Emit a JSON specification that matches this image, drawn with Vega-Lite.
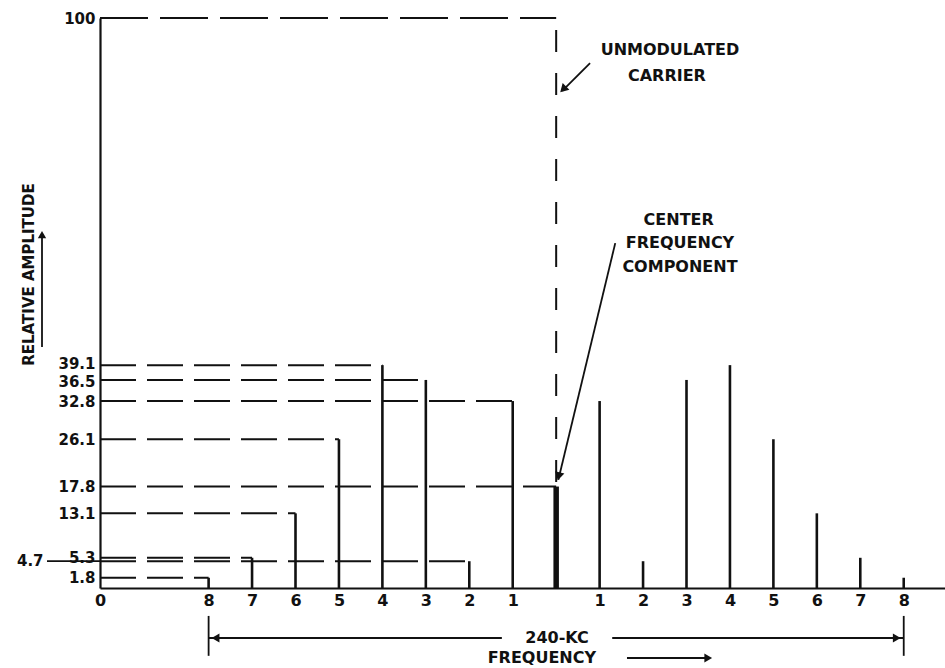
{
  "$schema": "https://vega.github.io/schema/vega-lite/v6.json",
  "width": 845,
  "height": 570,
  "autosize": {"type": "none"},
  "padding": {"left": 100, "top": 18, "right": 0, "bottom": 80},
  "background": "white",
  "config": {
    "view": {"stroke": null},
    "font": "DejaVu Sans",
    "text": {"font": "DejaVu Sans", "fontWeight": "bold", "fontSize": 16, "color": "#111"},
    "rule": {"color": "#111"},
    "axis": {
      "grid": false,
      "ticks": false,
      "domainColor": "#111",
      "domainWidth": 2.2,
      "labelColor": "#111",
      "labelFont": "DejaVu Sans",
      "labelFontWeight": "bold",
      "labelFontSize": 16,
      "labelOverlap": false,
      "labelBound": false,
      "labelFlush": false
    }
  },
  "datasets": {
    "spectrum": [
      {"pos": 2.5, "order": 8, "side": "lower", "base": 0, "amp": 1.8},
      {"pos": 3.5, "order": 7, "side": "lower", "base": 0, "amp": 5.3},
      {"pos": 4.5, "order": 6, "side": "lower", "base": 0, "amp": 13.1},
      {"pos": 5.5, "order": 5, "side": "lower", "base": 0, "amp": 26.1},
      {"pos": 6.5, "order": 4, "side": "lower", "base": 0, "amp": 39.1},
      {"pos": 7.5, "order": 3, "side": "lower", "base": 0, "amp": 36.5},
      {"pos": 8.5, "order": 2, "side": "lower", "base": 0, "amp": 4.7},
      {"pos": 9.5, "order": 1, "side": "lower", "base": 0, "amp": 32.8},
      {"pos": 10.5, "order": 0, "side": "center", "base": 0, "amp": 17.8},
      {"pos": 11.5, "order": 1, "side": "upper", "base": 0, "amp": 32.8},
      {"pos": 12.5, "order": 2, "side": "upper", "base": 0, "amp": 4.7},
      {"pos": 13.5, "order": 3, "side": "upper", "base": 0, "amp": 36.5},
      {"pos": 14.5, "order": 4, "side": "upper", "base": 0, "amp": 39.1},
      {"pos": 15.5, "order": 5, "side": "upper", "base": 0, "amp": 26.1},
      {"pos": 16.5, "order": 6, "side": "upper", "base": 0, "amp": 13.1},
      {"pos": 17.5, "order": 7, "side": "upper", "base": 0, "amp": 5.3},
      {"pos": 18.5, "order": 8, "side": "upper", "base": 0, "amp": 1.8}
    ],
    "carrier": [{"start": 0, "pos": 10.5, "amp": 100, "component": 17.8}],
    "leaders": [
      {"x": 11.28, "y": 92.1, "x2": 10.64, "y2": 87.2},
      {"x": 11.86, "y": 60.5, "x2": 10.55, "y2": 19.0},
      {"x": -1.335, "y": 42.3, "x2": -1.335, "y2": 61.5},
      {"x": 2.5, "y": -4.9, "x2": 2.5, "y2": -11.9},
      {"x": 18.5, "y": -4.9, "x2": 18.5, "y2": -11.9},
      {"x": 2.5, "y": -8.77, "x2": 9.25, "y2": -8.77},
      {"x": 11.79, "y": -8.77, "x2": 18.5, "y2": -8.77},
      {"x": 12.13, "y": -12.28, "x2": 14.0, "y2": -12.28},
      {"x": -1.22, "y": 4.7, "x2": 0, "y2": 4.7}
    ],
    "notes": [
      {"x": 13.12, "y": 94.4, "text": "UNMODULATED"},
      {"x": 13.05, "y": 89.8, "text": "CARRIER"},
      {"x": 13.32, "y": 64.6, "text": "CENTER"},
      {"x": 13.35, "y": 60.5, "text": "FREQUENCY"},
      {"x": 13.35, "y": 56.3, "text": "COMPONENT"},
      {"x": 10.52, "y": -8.77, "text": "240-KC"},
      {"x": 10.17, "y": -12.28, "text": "FREQUENCY"}
    ]
  },
  "layer": [
    {
      "data": {"name": "spectrum"},
      "transform": [{"filter": "datum.pos <= 10.5"}],
      "mark": {"type": "rule", "strokeWidth": 2, "strokeDash": [36, 11]},
      "encoding": {
        "x": {
          "field": "base",
          "type": "quantitative",
          "scale": {"domain": [0, 19.45], "nice": false, "zero": false},
          "axis": {
            "title": null,
            "values": [0, 2.5, 3.5, 4.5, 5.5, 6.5, 7.5, 8.5, 9.5, 11.5, 12.5, 13.5, 14.5, 15.5, 16.5, 17.5, 18.5],
            "labelExpr": "datum.value == 0 ? '0' : format(abs(datum.value - 10.5), 'd')",
            "labelPadding": 4
          }
        },
        "x2": {"field": "pos"},
        "y": {
          "field": "amp",
          "type": "quantitative",
          "scale": {"domain": [0, 100], "nice": false},
          "axis": {
            "title": "RELATIVE AMPLITUDE",
            "titleFont": "DejaVu Sans",
            "titleFontWeight": "bold",
            "titleFontSize": 15,
            "titleColor": "#111",
            "titleAngle": -90,
            "titleX": -72,
            "titleY": 256,
            "titleAlign": "center",
            "titleBaseline": "middle",
            "values": [1.8, 4.7, 5.3, 13.1, 17.8, 26.1, 32.8, 36.5, 39.1, 100],
            "labelExpr": "datum.value == 4.7 ? '' : datum.value == 100 ? '100' : format(datum.value, '.1f')",
            "labelFontSize": 15,
            "labelOffset": {"condition": [{"test": "datum.value == 39.1", "value": -2}, {"test": "datum.value == 36.5", "value": 1.5}], "value": 0},
            "labelPadding": 5
          }
        }
      }
    },
    {
      "data": {"name": "carrier"},
      "mark": {"type": "rule", "strokeWidth": 2, "strokeDash": [48, 12]},
      "encoding": {
        "x": {"field": "start", "type": "quantitative"},
        "x2": {"field": "pos"},
        "y": {"field": "amp", "type": "quantitative"}
      }
    },
    {
      "data": {"name": "carrier"},
      "mark": {"type": "rule", "strokeWidth": 2, "strokeDash": [22, 21], "strokeDashOffset": -12},
      "encoding": {
        "x": {"field": "pos", "type": "quantitative"},
        "y": {"field": "amp", "type": "quantitative"},
        "y2": {"field": "component"}
      }
    },
    {
      "data": {"name": "spectrum"},
      "transform": [{"filter": "datum.side != 'center'"}],
      "mark": {"type": "rule", "strokeWidth": 2.6},
      "encoding": {
        "x": {"field": "pos", "type": "quantitative"},
        "y": {"field": "base", "type": "quantitative"},
        "y2": {"field": "amp"}
      }
    },
    {
      "data": {"name": "spectrum"},
      "transform": [{"filter": "datum.side == 'center'"}],
      "mark": {"type": "rule", "strokeWidth": 5.5},
      "encoding": {
        "x": {"field": "pos", "type": "quantitative"},
        "y": {"field": "base", "type": "quantitative"},
        "y2": {"field": "amp"}
      }
    },
    {
      "data": {"name": "leaders"},
      "mark": {"type": "rule", "strokeWidth": 1.8, "clip": false},
      "encoding": {
        "x": {"field": "x", "type": "quantitative"},
        "y": {"field": "y", "type": "quantitative"},
        "x2": {"field": "x2"},
        "y2": {"field": "y2"}
      }
    },
    {
      "data": {"values": [{"x": 10.66, "y": 87.5}]},
      "mark": {"type": "point", "shape": "triangle-up", "filled": true, "size": 90, "angle": 225, "color": "#111", "opacity": 1},
      "encoding": {"x": {"field": "x", "type": "quantitative"}, "y": {"field": "y", "type": "quantitative"}}
    },
    {
      "data": {"values": [{"x": 10.56, "y": 19.6}]},
      "mark": {"type": "point", "shape": "triangle-up", "filled": true, "size": 90, "angle": 193.5, "color": "#111", "opacity": 1},
      "encoding": {"x": {"field": "x", "type": "quantitative"}, "y": {"field": "y", "type": "quantitative"}}
    },
    {
      "data": {"values": [{"x": -1.335, "y": 62.0}]},
      "mark": {"type": "point", "shape": "triangle-up", "filled": true, "size": 70, "angle": 0, "color": "#111", "opacity": 1},
      "encoding": {"x": {"field": "x", "type": "quantitative"}, "y": {"field": "y", "type": "quantitative"}}
    },
    {
      "data": {"values": [{"x": 2.66, "y": -8.77}]},
      "mark": {"type": "point", "shape": "triangle-up", "filled": true, "size": 80, "angle": 270, "color": "#111", "opacity": 1, "clip": false},
      "encoding": {"x": {"field": "x", "type": "quantitative"}, "y": {"field": "y", "type": "quantitative"}}
    },
    {
      "data": {"values": [{"x": 18.34, "y": -8.77}, {"x": 14.0, "y": -12.28}]},
      "mark": {"type": "point", "shape": "triangle-up", "filled": true, "size": 80, "angle": 90, "color": "#111", "opacity": 1, "clip": false},
      "encoding": {"x": {"field": "x", "type": "quantitative"}, "y": {"field": "y", "type": "quantitative"}}
    },
    {
      "data": {"name": "notes"},
      "mark": {"type": "text", "align": "center", "baseline": "middle", "clip": false},
      "encoding": {
        "x": {"field": "x", "type": "quantitative"},
        "y": {"field": "y", "type": "quantitative"},
        "text": {"field": "text"}
      }
    },
    {
      "data": {"values": [{"x": -1.3, "y": 4.7, "text": "4.7"}]},
      "mark": {"type": "text", "align": "right", "baseline": "middle", "clip": false, "fontSize": 15},
      "encoding": {
        "x": {"field": "x", "type": "quantitative"},
        "y": {"field": "y", "type": "quantitative"},
        "text": {"field": "text"}
      }
    }
  ]
}
